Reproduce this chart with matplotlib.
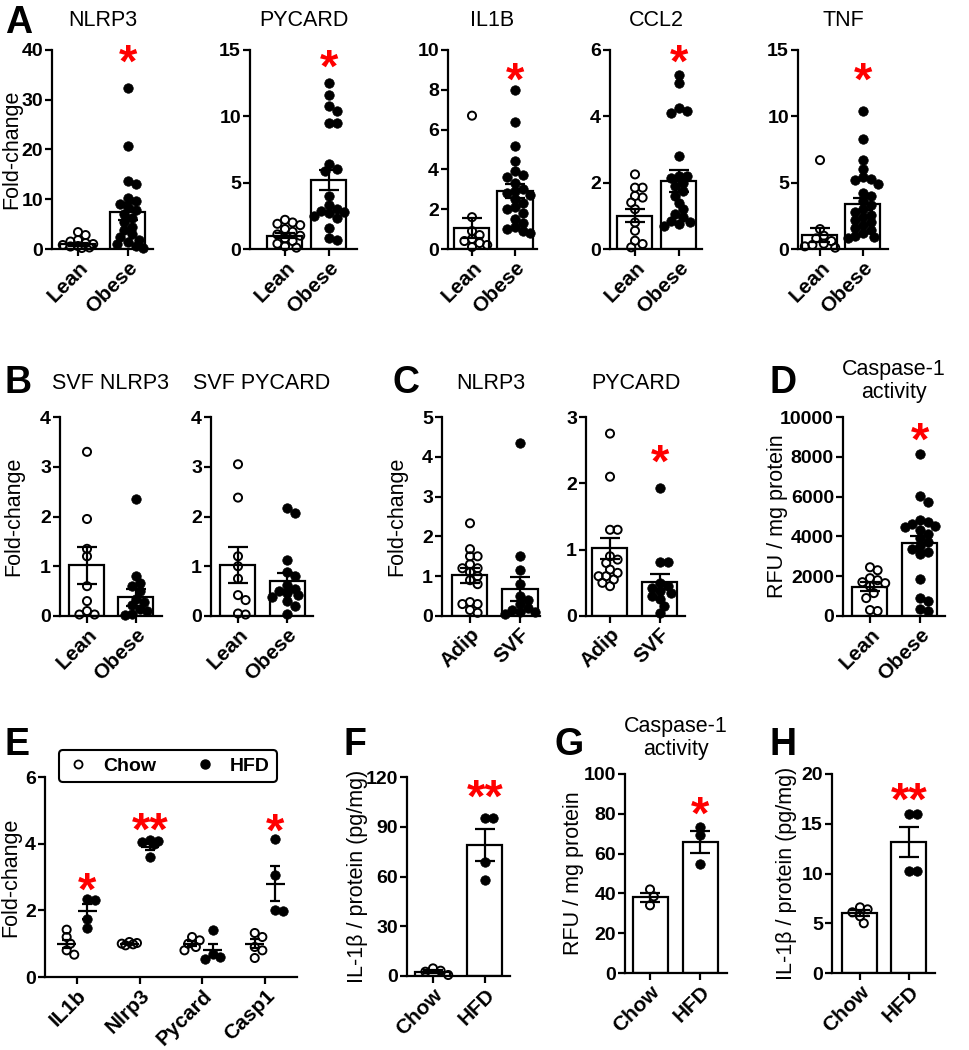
import numpy as np
import matplotlib
matplotlib.use('Agg')
import matplotlib.pyplot as plt
from matplotlib.lines import Line2D

plt.rcParams['font.family'] = ['Liberation Sans', 'DejaVu Sans']

W, H = 970, 1050

# ---------------- data ----------------
lean_obese = ['Lean', 'Obese']
adip_svf = ['Adip', 'SVF']
chow_hfd = ['Chow', 'HFD']

# A - adipose tissue, lean vs obese
a_nlrp3_lean = [3.4, 2.8, 1.8, 1.5, 1.2, 1.0, 0.8, 0.6, 0.5, 0.3, 0.2]
a_nlrp3_obese = [32.4, 20.8, 13.6, 13.0, 10.2, 9.7, 9.0, 8.4, 7.8, 7.0, 6.3, 5.5,
                 4.5, 3.8, 3.0, 2.4, 1.9, 1.5, 1.0, 0.6, 0.3]
a_nlrp3_mean = [1.0, 7.5]
a_nlrp3_sem = [0.3, 1.7]

a_pycard_lean = [2.2, 2.0, 1.9, 1.8, 1.5, 1.3, 1.1, 1.0, 0.8, 0.6, 0.4, 0.2, 0.1]
a_pycard_obese = [12.5, 11.6, 10.8, 10.4, 9.5, 9.5, 6.4, 6.0, 5.9, 4.0, 3.3, 3.0,
                  2.9, 2.8, 2.7, 2.5, 2.3, 1.6, 0.8, 0.7]
a_pycard_mean = [1.0, 5.2]
a_pycard_sem = [0.2, 0.75]

a_il1b_lean = [6.7, 1.6, 0.9, 0.7, 0.5, 0.4, 0.3, 0.2, 0.1]
a_il1b_obese = [8.0, 6.4, 5.2, 4.4, 3.9, 3.7, 3.6, 3.3, 3.0, 2.9, 2.8, 2.7, 2.5,
                2.3, 2.1, 2.0, 1.8, 1.5, 1.3, 1.1, 1.0, 0.9, 0.8]
a_il1b_mean = [1.05, 2.9]
a_il1b_sem = [0.5, 0.35]

a_ccl2_lean = [2.25, 1.85, 1.85, 1.6, 1.55, 1.4, 1.2, 0.8, 0.55, 0.25, 0.15, 0.05]
a_ccl2_obese = [5.25, 5.0, 4.25, 4.15, 4.1, 2.8, 2.2, 2.2, 2.15, 2.0, 1.9, 1.75,
                1.6, 1.4, 1.2, 1.05, 0.95, 0.85, 0.8, 0.75, 0.7]
a_ccl2_mean = [1.0, 2.05]
a_ccl2_sem = [0.2, 0.33]

a_tnf_lean = [6.7, 1.5, 1.0, 0.8, 0.6, 0.4, 0.3, 0.2, 0.1]
a_tnf_obese = [10.4, 8.3, 6.7, 6.0, 5.4, 5.3, 5.2, 4.9, 4.2, 4.0, 3.6, 3.3, 3.0,
               2.8, 2.6, 2.4, 2.2, 2.0, 1.8, 1.6, 1.4, 1.2, 1.0, 0.9, 0.8]
a_tnf_mean = [1.05, 3.4]
a_tnf_sem = [0.5, 0.45]

# B - SVF
b_nlrp3_lean = [3.3, 1.95, 1.35, 1.2, 0.6, 0.3, 0.1, 0.03, 0.03]
b_nlrp3_obese = [2.35, 0.8, 0.67, 0.6, 0.5, 0.35, 0.28, 0.22, 0.15, 0.1, 0.05, 0.02]
b_nlrp3_mean = [1.02, 0.38]
b_nlrp3_sem = [0.37, 0.17]

b_pycard_lean = [3.05, 2.38, 1.2, 1.0, 0.75, 0.42, 0.32, 0.05, 0.03]
b_pycard_obese = [2.17, 2.08, 1.12, 0.88, 0.8, 0.62, 0.55, 0.5, 0.47, 0.42, 0.38,
                  0.3, 0.2, 0.05]
b_pycard_mean = [1.02, 0.7]
b_pycard_sem = [0.36, 0.17]

# C - adipocytes vs SVF
c_nlrp3_adip = [2.33, 1.68, 1.5, 1.5, 1.3, 1.2, 1.2, 1.1, 1.0, 0.9, 0.8, 0.35,
                0.3, 0.3, 0.15, 0.08]
c_nlrp3_svf = [4.34, 1.5, 1.15, 0.8, 0.5, 0.4, 0.3, 0.2, 0.15, 0.1, 0.1, 0.05]
c_nlrp3_mean = [1.02, 0.68]
c_nlrp3_sem = [0.18, 0.3]

c_pycard_adip = [2.75, 2.1, 1.3, 1.3, 0.9, 0.85, 0.8, 0.7, 0.65, 0.6, 0.6, 0.55,
                 0.5, 0.45]
c_pycard_svf = [1.93, 0.82, 0.82, 0.5, 0.45, 0.42, 0.38, 0.35, 0.3, 0.25, 0.15, 0.05]
c_pycard_mean = [1.02, 0.52]
c_pycard_sem = [0.16, 0.11]

# D - caspase-1 activity
d_lean = [2450, 2300, 1900, 1800, 1700, 1650, 1500, 1150, 900, 300, 250]
d_obese = [8150, 6050, 5750, 4800, 4700, 4600, 4500, 4450, 4300, 4100, 3900, 3700,
           3500, 3350, 3200, 3100, 1850, 900, 750, 350, 250]
d_mean = [1480, 3650]
d_sem = [230, 380]

# E - mouse genes
e_genes = ['IL1b', 'Nlrp3', 'Pycard', 'Casp1']
e_chow = [[1.42, 1.2, 1.0, 0.8, 0.67], [1.05, 1.02, 1.0, 0.98, 0.95],
          [1.2, 1.1, 1.0, 0.9, 0.8], [1.32, 1.2, 0.9, 0.8, 0.57]]
e_hfd = [[2.34, 2.3, 1.74, 1.47], [4.12, 4.07, 4.04, 4.0, 3.6],
         [1.4, 0.7, 0.6, 0.55], [4.15, 3.07, 2.0, 1.97]]
e_chow_mean = [1.0, 1.0, 1.0, 1.0]
e_chow_sem = [0.12, 0.02, 0.07, 0.14]
e_hfd_mean = [1.97, 3.9, 0.8, 2.8]
e_hfd_sem = [0.22, 0.08, 0.2, 0.52]

# F, G, H
f_chow = [4.6, 3.2, 2.6, 0.6]
f_hfd = [95.5, 95.0, 69, 58]
f_mean = [2.7, 79]
f_sem = [0.9, 9.5]

g_chow = [42, 38.5, 34]
g_hfd = [73.5, 69.5, 55]
g_mean = [38, 66]
g_sem = [2.3, 5.6]

h_chow = [6.6, 6.4, 6.1, 5.7, 5.0]
h_hfd = [16.0, 16.0, 10.3, 10.3]
h_mean = [6.0, 13.2]
h_sem = [0.3, 1.5]

# ---------------- drawing ----------------
fig = plt.figure(figsize=(W / 100, H / 100), dpi=100)

LW = 1.6
DOT = 9.5  # marker diameter in px


def fx(x):
    return x / W


def fy(y):
    return 1 - y / H


def make_axes(L, R, top, bot, c0, step, ymax, yticks):
    ax = fig.add_axes([fx(L), fy(bot), (R - L) / W, (bot - top) / H])
    ax.set_xlim((L - c0) / step, (R - c0) / step)
    ax.set_ylim(0, ymax)
    for s in ['top', 'right']:
        ax.spines[s].set_visible(False)
    for s in ['left', 'bottom']:
        ax.spines[s].set_linewidth(LW)
    ax.tick_params(direction='out', length=5, width=LW, pad=1.5)
    ax.set_yticks(yticks)
    ax.set_yticklabels([str(int(t)) for t in yticks], fontsize=14,
                       fontweight='bold')
    ax.patch.set_alpha(0)
    return ax


def swarm(ax, x0, vals, d=DOT, maxoff=17):
    # simple beeswarm in pixel space, spread capped at maxoff px
    vals = np.asarray(vals, float)
    pts = ax.transData.transform(np.column_stack([np.full(len(vals), x0), vals]))
    ypx = pts[:, 1]
    xc = pts[0, 0]
    cands = [0.0]
    j = 1
    while j * d * 0.4 <= maxoff:
        cands += [j * d * 0.4, -j * d * 0.4]
        j += 1
    placed = []
    off = np.zeros(len(vals))
    for i in np.argsort(-vals):
        best, best_gap = 0.0, -1
        for c in cands:
            gap = min([np.hypot(c - px, ypx[i] - py) for px, py in placed] + [1e9])
            if gap >= d * 0.75:
                best = c
                break
            if gap > best_gap:
                best, best_gap = c, gap
        placed.append((best, ypx[i]))
        off[i] = best
    back = ax.transData.inverted().transform(np.column_stack([xc + off, ypx]))
    return back[:, 0]


def dots(ax, x0, vals, filled, maxoff=17):
    xs = swarm(ax, x0, vals, maxoff=maxoff)
    if filled:
        ax.scatter(xs, vals, s=(DOT * 0.72) ** 2, facecolors='black',
                   edgecolors='black', linewidths=0.5, zorder=3, clip_on=False)
    else:
        ax.scatter(xs, vals, s=(DOT * 0.72 - 1) ** 2, facecolors='none',
                   edgecolors='black', linewidths=1.4, zorder=3, clip_on=False)


def star(ax, x, y, txt='*'):
    ax.annotate(txt, (x, y), xytext=(0, -19), textcoords='offset points',
                ha='center', va='baseline', color='red', fontsize=34,
                fontweight='bold', annotation_clip=False)


def bar_panel(L, R, top, bot, c0, c1, groups, pts, means, sems, ymax, yticks,
              title=None, title_y=None, ylabel=None, ylab_x=None):
    step = c1 - c0
    ax = make_axes(L, R, top, bot, c0, step, ymax, yticks)
    x = np.arange(len(groups))
    ax.bar(x, means, width=35 / step, color='white', edgecolor='black',
           linewidth=LW, zorder=1)
    ax.errorbar(x, means, yerr=sems, fmt='none', ecolor='black',
                elinewidth=LW, capsize=7, capthick=LW, zorder=2)
    for i, vals in enumerate(pts):
        dots(ax, i, vals, filled=(i == 1))
    ax.set_xticks(x)
    ax.set_xticklabels(groups, rotation=45, ha='right', rotation_mode='anchor',
                       fontsize=15, fontweight='bold')
    if title is not None:
        fig.text(fx((L + R) / 2), fy(title_y), title, ha='center', va='center',
                 fontsize=15.5, linespacing=1.15)
    if ylabel is not None:
        fig.text(fx(ylab_x), fy((top + bot) / 2), ylabel, rotation=90,
                 ha='center', va='center', fontsize=15.5)
    return ax


# row A
ax = bar_panel(52, 153, 50, 249, 78, 128, lean_obese,
               [a_nlrp3_lean, a_nlrp3_obese], a_nlrp3_mean, a_nlrp3_sem,
               40, [0, 10, 20, 30, 40], 'NLRP3', 20, 'Fold-change', 12)
star(ax, 1, 40)
ax = bar_panel(250, 357, 50, 249, 285, 329, lean_obese,
               [a_pycard_lean, a_pycard_obese], a_pycard_mean, a_pycard_sem,
               15, [0, 5, 10, 15], 'PYCARD', 20)
star(ax, 1, 14.6)
ax = bar_panel(448, 537, 50, 249, 472, 515, lean_obese,
               [a_il1b_lean, a_il1b_obese], a_il1b_mean, a_il1b_sem,
               10, [0, 2, 4, 6, 8, 10], 'IL1B', 20)
star(ax, 1, 9.1)
ax = bar_panel(610, 702, 50, 249, 635, 679, lean_obese,
               [a_ccl2_lean, a_ccl2_obese], a_ccl2_mean, a_ccl2_sem,
               6, [0, 2, 4, 6], 'CCL2', 20)
star(ax, 1, 6.0)
ax = bar_panel(798, 888, 50, 249, 820, 863, lean_obese,
               [a_tnf_lean, a_tnf_obese], a_tnf_mean, a_tnf_sem,
               15, [0, 5, 10, 15], 'TNF', 20)
star(ax, 1, 13.6)

# row B, C, D
bar_panel(60, 162, 417, 616, 87, 136, lean_obese,
          [b_nlrp3_lean, b_nlrp3_obese], b_nlrp3_mean, b_nlrp3_sem,
          4, [0, 1, 2, 3, 4], 'SVF NLRP3', 383, 'Fold-change', 14)
bar_panel(211, 313, 417, 616, 238, 287, lean_obese,
          [b_pycard_lean, b_pycard_obese], b_pycard_mean, b_pycard_sem,
          4, [0, 1, 2, 3, 4], 'SVF PYCARD', 383)
bar_panel(442, 540, 417, 616, 470, 520, adip_svf,
          [c_nlrp3_adip, c_nlrp3_svf], c_nlrp3_mean, c_nlrp3_sem,
          5, [0, 1, 2, 3, 4, 5], 'NLRP3', 383, 'Fold-change', 397)
ax = bar_panel(586, 685, 417, 616, 610, 660, adip_svf,
               [c_pycard_adip, c_pycard_svf], c_pycard_mean, c_pycard_sem,
               3, [0, 1, 2, 3], 'PYCARD', 383)
star(ax, 1, 2.5)
ax = bar_panel(843, 945, 417, 616, 870, 920, lean_obese,
               [d_lean, d_obese], d_mean, d_sem,
               10000, [0, 2000, 4000, 6000, 8000, 10000],
               'Caspase-1\nactivity', 381, 'RFU / mg protein', 777)
star(ax, 1, 9450)

# row E
ax = make_axes(45, 297, 777, 977, 77, 62.7, 6, [0, 2, 4, 6])
xg = np.arange(len(e_genes))
dx = 0.165
for i in xg:
    dots(ax, i - dx, e_chow[i], filled=False, maxoff=11)
    dots(ax, i + dx, e_hfd[i], filled=True, maxoff=11)
for off, m, s in [(-dx, e_chow_mean, e_chow_sem), (dx, e_hfd_mean, e_hfd_sem)]:
    ax.hlines(m, xg + off - 0.15, xg + off + 0.15, color='black', lw=LW, zorder=4)
    ax.errorbar(xg + off, m, yerr=s, fmt='none', ecolor='black', elinewidth=LW,
                capsize=3.8, capthick=LW, zorder=4)
ax.set_xticks(xg)
ax.set_xticklabels(e_genes, rotation=45, ha='right', rotation_mode='anchor',
                   fontsize=15, fontweight='bold')
star(ax, 0 + dx, 2.95)
star(ax, 1 + dx, 4.75, '**')
star(ax, 3 + dx, 4.72)
fig.text(fx(11), fy(877), 'Fold-change', rotation=90, ha='center', va='center',
         fontsize=15.5)
handles = [Line2D([], [], ls='none', marker='o', mfc='none', mec='black', mew=1.3,
                  ms=5.8),
           Line2D([], [], ls='none', marker='o', mfc='black', mec='black', ms=6.5)]
leg = fig.legend(handles, chow_hfd, loc='center', bbox_to_anchor=(fx(168), fy(766)),
                 ncol=2, frameon=True, fancybox=True, edgecolor='black',
                 prop={'size': 14, 'weight': 'bold'}, columnspacing=1.9,
                 handletextpad=0.7, borderpad=0.35, handlelength=1.2)
leg.get_frame().set_linewidth(1.5)
leg.get_frame().set_alpha(1)

# F, G, H
ax = bar_panel(407, 510, 777, 976, 433, 485, chow_hfd, [f_chow, f_hfd],
               f_mean, f_sem, 120, [0, 30, 60, 90, 120],
               ylabel='IL-1\u03b2 / protein (pg/mg)', ylab_x=358)
star(ax, 1, 115, '**')
ax = bar_panel(625, 727, 774, 973, 650, 700, chow_hfd, [g_chow, g_hfd],
               g_mean, g_sem, 100, [0, 20, 40, 60, 80, 100],
               'Caspase-1\nactivity', 738, 'RFU / mg protein', 573)
star(ax, 1, 86)
ax = bar_panel(832, 935, 774, 973, 860, 909, chow_hfd, [h_chow, h_hfd],
               h_mean, h_sem, 20, [0, 5, 10, 15, 20],
               ylabel='IL-1\u03b2 / protein (pg/mg)', ylab_x=787)
star(ax, 1, 18.6, '**')

# panel letters
for letter, x, y in [('A', 5, 33), ('B', 5, 393), ('C', 393, 393), ('D', 770, 393),
                     ('E', 5, 755), ('F', 343, 755), ('G', 555, 755), ('H', 770, 755)]:
    fig.text(fx(x), fy(y), letter, fontsize=27, fontweight='bold',
             ha='left', va='baseline')

fig.savefig('out.png', dpi=100)
